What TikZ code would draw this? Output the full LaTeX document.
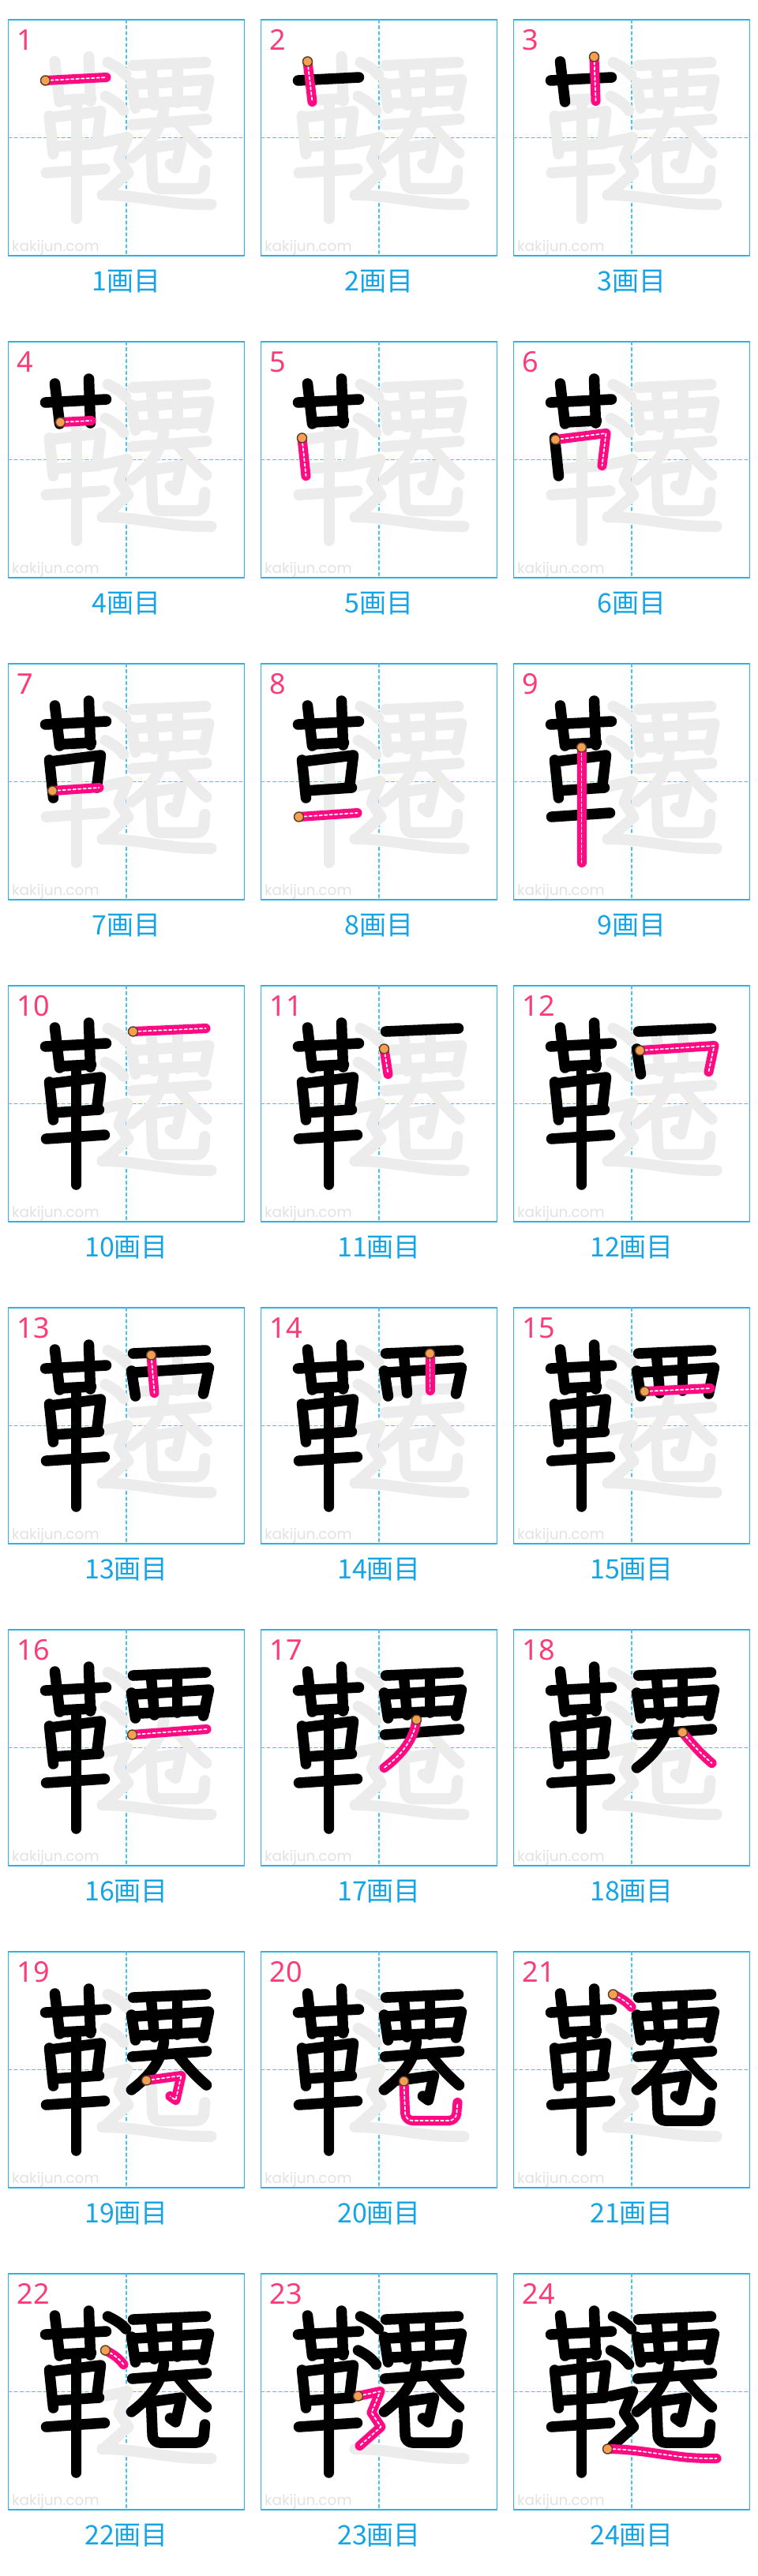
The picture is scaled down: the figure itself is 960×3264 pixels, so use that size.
\documentclass[tikz,border=0pt]{standalone}
\usepackage{fontspec}
\setmainfont{Noto Sans}
\newfontfamily\cjkfont{Noto Sans CJK JP}
\newfontfamily\wmfont{Poppins}
\definecolor{ghostc}{RGB}{236,236,236}
\definecolor{boxc}{RGB}{40,180,230}
\definecolor{gridc}{RGB}{70,195,240}
\definecolor{pinkc}{RGB}{255,10,130}
\definecolor{numc}{RGB}{250,60,120}
\definecolor{labc}{RGB}{20,165,230}
\definecolor{dotc}{RGB}{245,160,80}
\definecolor{dotb}{RGB}{90,60,40}
\definecolor{wmc}{RGB}{226,226,226}
\newcommand\defstroke[3]{\expandafter\def\csname kjst#1\endcsname{#3}\expandafter\def\csname kjsp#1\endcsname{#2}}
\newcommand\kjdraw[2]{\expandafter\kjdrawaux\csname kjst#2\endcsname{#1}}
\newcommand\kjdrawaux[2]{\draw[#2] #1;}
\newcommand\kjdot[1]{\expandafter\kjdotaux\csname kjsp#1\endcsname}
\newcommand\kjdotaux[1]{\filldraw[startdot] #1 circle (6);}
\defstroke{1}{(47,77)}{(47,77) -- (124,73)}
\defstroke{2}{(59,53)}{(59,53) -- (65,104)}
\defstroke{3}{(102,47)}{(102,47) -- (104,103)}
\defstroke{4}{(66,102)}{(66,102) -- (105,100)}
\defstroke{5}{(52,122)}{(52,122) -- (57,170)}
\defstroke{6}{(53,124)}{(53,124) -- (117,116) -- (112,157)}
\defstroke{7}{(56,161)}{(56,161) -- (115,157)}
\defstroke{8}{(48,194)}{(48,194) -- (122,189)}
\defstroke{9}{(86,106)}{(86,106) -- (86,252)}
\defstroke{10}{(158,58)}{(158,58) -- (250,54)}
\defstroke{11}{(156,80)}{(156,80) -- (161,112)}
\defstroke{12}{(160,82)}{(160,82) -- (254,76) -- (247,109)}
\defstroke{13}{(181,60)}{(181,60) -- (185,108)}
\defstroke{14}{(214,58)}{(214,58) -- (214,105)}
\defstroke{15}{(166,106)}{(166,106) -- (249,102)}
\defstroke{16}{(157,133)}{(157,133) -- (251,126)}
\defstroke{17}{(197,114)}{(197,114) .. controls (194,140) and (176,160) .. (156,175)}
\defstroke{18}{(214,130)}{(214,130) .. controls (226,145) and (238,158) .. (251,169)}
\defstroke{19}{(175,163)}{(175,163) -- (219,157) -- (212,188) -- (205,183)}
\defstroke{20}{(181,164)}{[rounded corners=9] (181,164) -- (183,214) -- (247,214) -- (249,191)}
\defstroke{21}{(126,54)}{(126,54) .. controls (136,59) and (143,63) .. (149,70)}
\defstroke{22}{(123,97)}{(123,97) .. controls (133,102) and (140,107) .. (146,115)}
\defstroke{23}{(123,155)}{(123,155) -- (151,149) -- (140,176) -- (152,194) -- (125,218)}
\defstroke{24}{(119,222)}{(119,222) .. controls (150,222) and (180,228) .. (205,231) .. controls (225,234) and (245,234) .. (257,234)}
\tikzset{
  ghoststroke/.style={draw=ghostc, line width=14},
  blackstroke/.style={draw=black, line width=13.5},
  pinkstroke/.style={draw=pinkc, line width=12},
  pinkdash/.style={draw=white, line width=1.7, dash pattern=on 3.5 off 3},
  startdot/.style={fill=dotc, draw=dotb, line width=1.4},
  boxline/.style={draw=boxc, line width=1.4},
  gridline/.style={draw=gridc, line width=1.3, dash pattern=on 4 off 3.5},
  numlabel/.style={text=numc, font=\fontsize{36}{40}\selectfont, inner sep=0, anchor=base west},
  steplabel/.style={text=labc, font=\fontsize{34}{40}\selectfont\cjkfont, inner sep=0, anchor=base},
  wmlabel/.style={text=wmc, font=\fontsize{18.5}{22}\selectfont\wmfont, inner sep=0, anchor=base west}
}
\begin{document}
\begin{tikzpicture}[x=1pt, y=-1pt, line cap=round, line join=round]
\useasboundingbox (0,0) rectangle (960,3264);
\fill[white] (0,0) rectangle (960,3264);
\foreach \k in {1,...,24}{
  \pgfmathtruncatemacro\col{mod(\k-1,3)}
  \pgfmathtruncatemacro\row{div(\k-1,3)}
  \begin{scope}[shift={(10.5+320*\col, 25+408*\row)}]
    \draw[boxline] (0,0) rectangle (299,299);
    \draw[gridline] (149.5,0) -- (149.5,299);
    \draw[gridline] (0,149.5) -- (299,149.5);
    \node[wmlabel] (wm\k) at (4.5,293) {kakijun.com};
    \foreach \s in {1,...,24}{\kjdraw{ghoststroke}{\s}}
    \foreach \s in {1,...,24}{\ifnum\s<\k\relax\kjdraw{blackstroke}{\s}\fi}
    \kjdraw{pinkstroke}{\k}
    \kjdraw{pinkdash}{\k}
    \kjdot{\k}
    \node[numlabel] (num\k) at (11,38) {\k};
    \node[steplabel] (lab\k) at (149.5,343) {\k 画目};
  \end{scope}
}
\end{tikzpicture}
\end{document}
